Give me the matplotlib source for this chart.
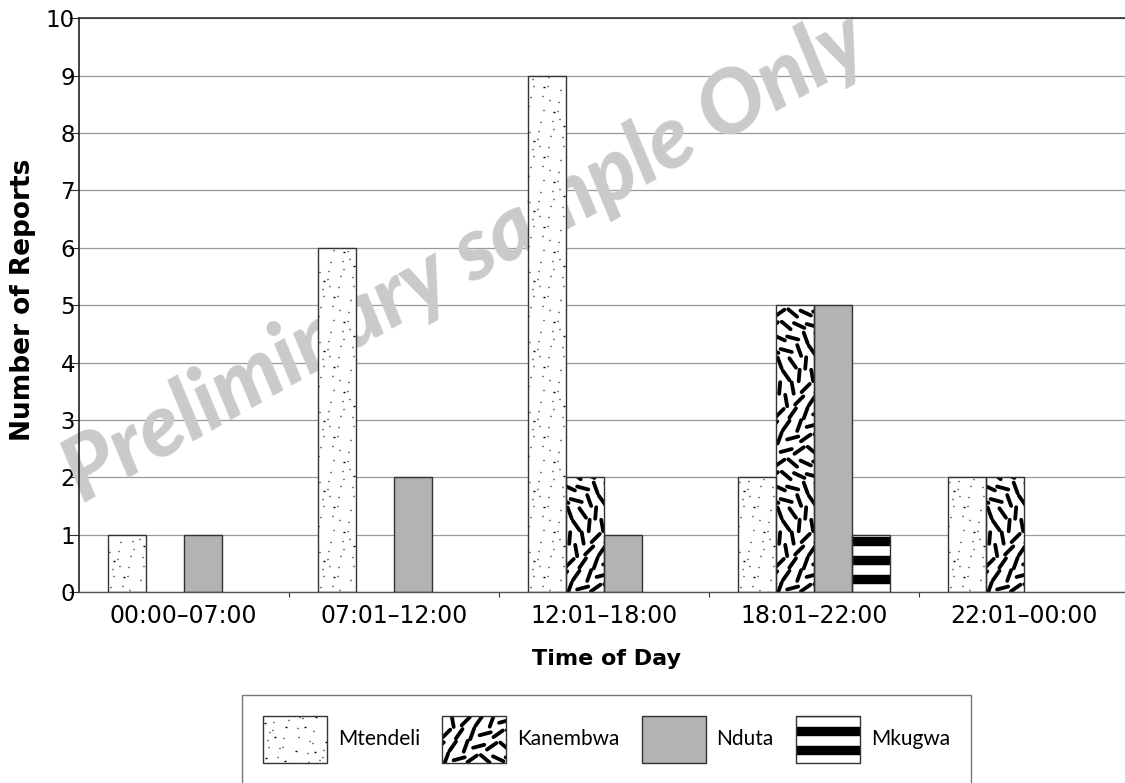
import numpy as np
import matplotlib
matplotlib.use("Agg")
import matplotlib.pyplot as plt
from matplotlib.collections import LineCollection
from matplotlib.legend_handler import HandlerBase
from matplotlib.patches import Rectangle, Patch
from matplotlib.transforms import IdentityTransform

categories = ["00:00\u201307:00", "07:01\u201312:00", "12:01\u201318:00",
              "18:01\u201322:00", "22:01\u201300:00"]
series_names = ["Mtendeli", "Kanembwa", "Nduta", "Mkugwa"]
mtendeli = [1, 6, 9, 2, 2]
kanembwa = [0, 0, 2, 5, 2]
nduta = [1, 2, 1, 5, 0]
mkugwa = [0, 0, 0, 1, 0]

DPI = 100
EDGE = "#333333"
FILLS = ["white", "white", "#b3b3b3", "white"]
TEXTURES = ["dots", "dashes", None, "stripes"]
DASH_ANGLES = [70, 125, 35, 100, 155, 55, 110, 15, 85, 140, 45, 165]
DOT_JITTER = [0.0, 3.2, -2.4, 1.6, -3.4, 2.6, -1.2]

plt.rcParams["font.family"] = "DejaVu Sans"


def texture_segments(kind, x0, y0, w, h, s=1.0):
    # s = units per pixel, so the same fill works in pixels and in points
    segs = []
    if kind == "dots":
        step = 10 * s
        for j in range(int(h / step) + 2):
            for i in range(int(w / step) + 2):
                cx = x0 + (i + 0.3) * step + DOT_JITTER[(3 * i + 5 * j) % 7] * s
                cy = y0 + (j + 0.3) * step + DOT_JITTER[(5 * i + 2 * j + 3) % 7] * s
                segs.append([(cx - 0.7 * s, cy), (cx + 0.7 * s, cy)])
        return segs, 1.4, "butt"
    if kind == "dashes":
        sx, sy, half = 13.0 * s, 12.5 * s, 5.8 * s
        for j in range(-1, int(h / sy) + 2):
            for i in range(-1, int(w / sx) + 2):
                cx = x0 + (i + 0.5 * (j % 2)) * sx + 4 * s
                cy = y0 + j * sy + 4 * s
                a = np.radians(DASH_ANGLES[(7 * i + 5 * j) % len(DASH_ANGLES)])
                dx, dy = half * np.cos(a), half * np.sin(a)
                segs.append([(cx - dx, cy - dy), (cx + dx, cy + dy)])
        return segs, 3.8, "round"
    if kind == "stripes":
        period, thick, off = 19.0 * s, 9.4 * s, 8.5 * s
        y = y0 + off + thick / 2
        while y - thick / 2 < y0 + h:
            segs.append([(x0, y), (x0 + w, y)])
            y += period
        return segs, 9.4, "butt"
    return segs, 0, "butt"


class TextureHandler(HandlerBase):

    def __init__(self, kind):
        super().__init__()
        self.kind = kind

    def create_artists(self, legend, orig_handle, xdescent, ydescent, width, height, fontsize, trans):
        x0, y0 = -xdescent, -ydescent
        face = Rectangle((x0, y0), width, height, facecolor=orig_handle.get_facecolor(),
                         edgecolor="none", transform=trans)
        artists = [face]
        if self.kind:
            pt = 72 / DPI
            segs, lw, cap = texture_segments(self.kind, x0, y0, width, height, pt)
            lc = LineCollection(segs, colors="black", linewidths=lw * pt, capstyle=cap, transform=trans)
            lc.set_clip_path(face)
            artists.append(lc)
        artists.append(Rectangle((x0, y0), width, height, fill=False, edgecolor=EDGE,
                                 linewidth=1.0, transform=trans))
        return artists


fig = plt.figure(figsize=(11.25, 7.83), dpi=DPI)
ax = fig.add_axes([78.7 / 1125, 191 / 783, 1050 / 1125, 573.7 / 783])
ax.set_xlim(-0.5, 4.5)
ax.set_ylim(0, 10)

x = np.arange(len(categories))
width = 0.181
series = [mtendeli, kanembwa, nduta, mkugwa]

for k, vals in enumerate(series):
    left = x + (k - 2) * width
    fills = ax.bar(left, vals, width, align="edge", color=FILLS[k], edgecolor="none", zorder=2)
    if TEXTURES[k]:
        for bar in fills:
            if bar.get_height() == 0:
                continue
            bb = bar.get_window_extent()
            segs, lw, cap = texture_segments(TEXTURES[k], bb.x0, bb.y0, bb.width, bb.height)
            lc = LineCollection(segs, colors="black", linewidths=lw * 72 / DPI, capstyle=cap,
                                transform=IdentityTransform(), zorder=2.5)
            ax.add_collection(lc, autolim=False)
            # after add_collection, otherwise the axes clip replaces it
            lc.set_clip_path(bar)
    ax.bar(left, vals, width, align="edge", fill=False, edgecolor=EDGE,
           linewidth=[1.0 if v else 0 for v in vals], zorder=3)

ax.set_axisbelow(True)
ax.yaxis.grid(True, color="#9a9a9a", linewidth=0.9)

ax.spines["right"].set_visible(False)
ax.spines["top"].set_color("#222222")
ax.spines["top"].set_linewidth(1.1)
ax.spines["left"].set_color("#222222")
ax.spines["left"].set_linewidth(1.2)
ax.spines["bottom"].set_color("#555555")
ax.spines["bottom"].set_linewidth(1.0)

ax.set_xticks(x, categories)
ax.set_xticks(np.arange(0.5, 4.5, 1.0), minor=True)
ax.tick_params(axis="x", which="major", length=0, pad=8.3, labelsize=17)
ax.tick_params(axis="x", which="minor", length=3.6, width=0.8, color="#333333")
ax.set_yticks(range(11))
ax.tick_params(axis="y", length=7.2, width=0.8, color="#333333", pad=-4.5, labelsize=16.5)

ax.set_ylabel("Number of Reports", fontsize=19, fontweight="bold")
ax.yaxis.set_label_coords(-0.041, 0.51)
ax.set_xlabel("Time of Day", fontsize=16, fontweight="bold")
ax.xaxis.set_label_coords(0.5027, -0.099)

# watermark sits under the bars
ax.text(465 / 1125, 1 - 258 / 783, "Preliminary sample Only", transform=fig.transFigure,
        rotation=29.5, rotation_mode="anchor", ha="center", va="center",
        fontsize=63, fontweight=900, fontstyle="italic", family=["Lato", "DejaVu Sans"],
        color="#cacaca", zorder=1)

fs = 15
handles = [Patch(facecolor=FILLS[k], label=name) for k, name in enumerate(series_names)]
leg = fig.legend(handles, series_names, loc="upper center",
                 bbox_to_anchor=(606.5 / 1125, 1 - 695 / 783), ncol=4, borderaxespad=0,
                 frameon=True, fancybox=False, edgecolor="#555555",
                 prop={"family": ["Lato", "DejaVu Sans"], "size": fs},
                 handlelength=64 * 0.72 / fs, handleheight=3.09,
                 handletextpad=11 * 0.72 / fs, columnspacing=22 * 0.72 / fs,
                 borderpad=1.0,
                 handler_map={h: TextureHandler(TEXTURES[k]) for k, h in enumerate(handles)})
leg.get_frame().set_linewidth(1.0)

fig.savefig("out.png", dpi=DPI)
